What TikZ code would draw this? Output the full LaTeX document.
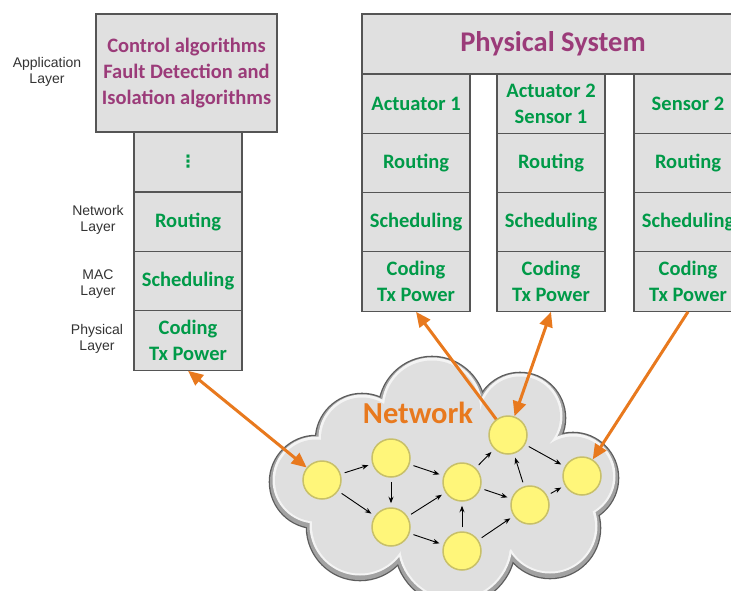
\documentclass[tikz,border=0pt]{standalone}
\usepackage{fontspec}
\setmainfont{Liberation Sans}
\newfontfamily\boxfont{Carlito}
\newfontfamily\symfont{DejaVu Sans}
\usetikzlibrary{arrows.meta}

\definecolor{boxfill}{HTML}{E0E0E0}
\definecolor{boxline}{HTML}{555555}
\definecolor{tgreen}{HTML}{009A48}
\definecolor{tpurple}{HTML}{9B3B79}
\definecolor{torange}{HTML}{E8791E}
\definecolor{labelgray}{HTML}{333333}
\definecolor{nodefill}{HTML}{FFF67A}
\definecolor{nodeline}{HTML}{C8C068}
\definecolor{cloudline}{HTML}{5C5C5C}
\definecolor{cloudshade}{HTML}{A2A2A2}
\definecolor{cloudlight}{HTML}{F4F4F4}
\definecolor{cloudfill}{HTML}{DFDFDF}

\begin{document}
\begin{tikzpicture}[x=1pt,y=-1pt,
  cell/.style={draw=boxline, fill=boxfill, line width=1.1pt, inner sep=0pt,
    minimum width=108pt, minimum height=59.5pt, align=center, text=tgreen,
    font=\boxfont\bfseries\fontsize{20.5}{26}\selectfont},
  bigbox/.style={cell, text=tpurple},
  layerlabel/.style={align=center, text=labelgray, inner sep=0pt,
    font=\fontsize{14}{16.5}\selectfont},
  netnode/.style={circle, fill=nodefill, draw=nodeline, line width=1.5pt,
    minimum size=38pt, inner sep=0pt},
  link/.style={line width=0.9pt, black, shorten <=4pt, shorten >=4pt,
    -{Stealth[length=6.5pt,width=5pt]}},
  wire/.style={line width=3pt, torange},
  wiretip/.tip={Triangle[length=15pt,width=13pt]}
]
\useasboundingbox (0,0) rectangle (731,590);
\clip (0,0) rectangle (731,590);

% ---- left protocol stack ----
\node[bigbox, minimum width=181pt, minimum height=118pt]
  (app) at (186.5,73) {Control algorithms\\Fault Detection and\\Isolation algorithms};
\node[cell, font=\symfont\bfseries\fontsize{17}{20}\selectfont]
  (l1) at (188,162) {⋮};
\node[cell] (l2) at (188,222) {Routing};
\node[cell] (l3) at (188,281.5) {Scheduling};
\node[cell] (l4) at (188,340.5) {Coding\\Tx Power};

\node[layerlabel] (lapp) at (47,72) {Application\\Layer};
\node[layerlabel] (lnet) at (98,220) {Network\\Layer};
\node[layerlabel] (lmac) at (98,284) {MAC\\Layer};
\node[layerlabel] (lphy) at (97,339) {Physical\\Layer};

% ---- physical system and its devices ----
\node[bigbox, minimum width=382pt, minimum height=60pt,
      font=\boxfont\bfseries\fontsize{28.5}{32}\selectfont]
  (phys) at (553,44) {\raisebox{-3pt}{Physical System}};

\node[cell] (a1) at (416,104) {Actuator 1};
\node[cell] (a2) at (416,163.5) {Routing};
\node[cell] (a3) at (416,222.5) {Scheduling};
\node[cell] (a4) at (416,281.5) {Coding\\Tx Power};

\node[cell] (b1) at (551,104) {Actuator 2\\Sensor 1};
\node[cell] (b2) at (551,163.5) {Routing};
\node[cell] (b3) at (551,222.5) {Scheduling};
\node[cell] (b4) at (551,281.5) {Coding\\Tx Power};

\node[cell] (c1) at (688,104) {Sensor 2};
\node[cell] (c2) at (688,163.5) {Routing};
\node[cell] (c3) at (688,222.5) {Scheduling};
\node[cell] (c4) at (688,281.5) {Coding\\Tx Power};

% ---- cloud: union of discs, layered for a bevelled rim ----
\def\puffs{316/482/46, 362/440/46, 432/410/53, 520/418/45, 573/478/45,
  550/528/50, 455/545/60, 360/527/53, 440/480/85, 470/500/70,
  525/462/35, 540/470/30}
\foreach \cx/\cy/\r in \puffs
  \fill[cloudline] (\cx,\cy) circle[radius={(\r+1.3)*1pt}];
\foreach \cx/\cy/\r in \puffs
  \fill[cloudshade] (\cx,\cy) circle[radius={\r*1pt}];
\foreach \cx/\cy/\r in \puffs
  \fill[cloudlight] (\cx,\cy-2) circle[radius={(\r-2.5)*1pt}];
\foreach \cx/\cy/\r in \puffs
  \fill[cloudfill] (\cx,\cy-1.5) circle[radius={(\r-5)*1pt}];

\node[text=torange, inner sep=0pt,
      font=\boxfont\bfseries\fontsize{30.5}{32}\selectfont]
  (netlabel) at (418,413) {Network};

% ---- network nodes ----
\node[netnode] (n1) at (322,480) {};
\node[netnode] (n2) at (391,458) {};
\node[netnode] (n3) at (391,527) {};
\node[netnode] (n4) at (462,482) {};
\node[netnode] (n5) at (462,551) {};
\node[netnode] (n6) at (508,435) {};
\node[netnode] (n7) at (530,505) {};
\node[netnode] (n8) at (582,476) {};

\draw[link] (n1) -- (n2);
\draw[link] (n1) -- (n3);
\draw[link] (n2) -- (n3);
\draw[link] (n2) -- (n4);
\draw[link] (n3) -- (n4);
\draw[link] (n3) -- (n5);
\draw[link] (n5) -- (n4);
\draw[link] (n4) -- (n6);
\draw[link] (n4) -- (n7);
\draw[link] (n5) -- (n7);
\draw[link] (n7) -- (n6);
\draw[link] (n6) -- (n8);
\draw[link] (n7) -- (n8);

% ---- radio links between stacks and the network ----
\draw[wire, wiretip-wiretip] (l4.south) -- (n1);
\draw[wire, -wiretip] (n6) -- (a4.south);
\draw[wire, wiretip-wiretip] (b4.south) -- (n6);
\draw[wire, -wiretip] (c4.south) -- (n8);

\end{tikzpicture}
\end{document}
